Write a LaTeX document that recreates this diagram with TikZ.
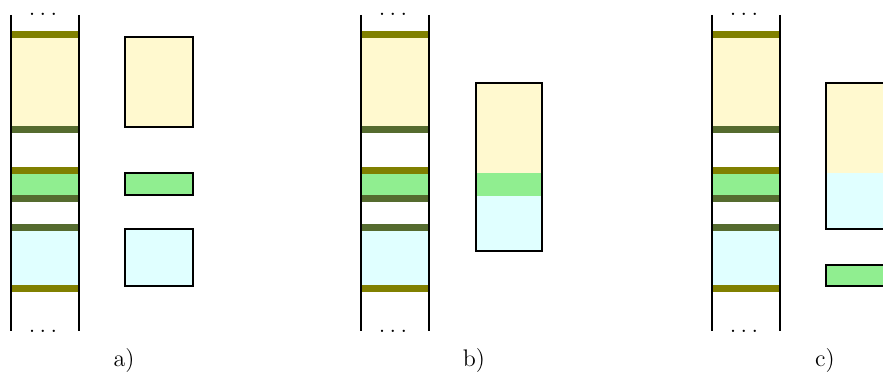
\documentclass[tikz,border=0pt]{standalone}
\usetikzlibrary{positioning}

\definecolor{cellyellow}{HTML}{FFF9CF}
\definecolor{cellgreen}{HTML}{90EE90}
\definecolor{cellcyan}{HTML}{E0FFFF}
\definecolor{headbar}{HTML}{808000}
\definecolor{footbar}{HTML}{556B2F}

\begin{document}
\begin{tikzpicture}[x=0.5pt, y=-0.5pt,
    wall/.style={line width=1pt},
    band/.style={line width=3.5pt},
    chunk/.style={draw, line width=1pt},
    dotrow/.style={anchor=base, inner sep=0pt, font=\large},
    caption/.style={font=\large}]
        \useasboundingbox (0,0) rectangle (883,374);

        % memory column, the same in every panel
        \foreach \off/\name in {0/a, 350/b, 701/c} {
          \begin{scope}[xshift=\off*0.5pt]
            \fill[cellyellow] (11,38) rectangle (79,127);
            \fill[cellgreen] (11,174) rectangle (79,195);
            \fill[cellcyan] (11,231) rectangle (79,285);

            \draw[band, headbar] (11,34.5) -- (79,34.5);
            \draw[band, footbar] (11,130) -- (79,130);
            \draw[band, headbar] (11,170.5) -- (79,170.5);
            \draw[band, footbar] (11,198.5) -- (79,198.5);
            \draw[band, footbar] (11,227.5) -- (79,227.5);
            \draw[band, headbar] (11,288.5) -- (79,288.5);

            \draw[wall] (11,15) -- (11,331);
            \draw[wall] (79,15) -- (79,331);

            \node[dotrow] (top\name) at (43,15.5) {.\kern2.2pt.\kern2.2pt.};
            \node[dotrow] (bot\name) at (43,332.5) {.\kern2.2pt.\kern2.2pt.};

            \node[caption] (lab\name) at (124,361) {\name)};
          \end{scope}
        }

        % a) three separate chunks
        \draw[chunk, fill=cellyellow] (125,37) rectangle (193,127);
        \draw[chunk, fill=cellgreen] (125,173) rectangle (193,195);
        \draw[chunk, fill=cellcyan] (125,229) rectangle (193,286);

        % b) one chunk in order
        \fill[cellyellow] (476,83) rectangle (542,173);
        \fill[cellgreen] (476,173) rectangle (542,196);
        \fill[cellcyan] (476,196) rectangle (542,251);
        \draw[chunk] (476,83) rectangle (542,251);

        % c) two chunks
        \fill[cellyellow] (826,83) rectangle (892,173);
        \fill[cellcyan] (826,173) rectangle (892,229);
        \draw[chunk] (826,83) rectangle (892,229);
        \draw[chunk, fill=cellgreen] (826,265) rectangle (892,286);
      \end{tikzpicture}
\end{document}
